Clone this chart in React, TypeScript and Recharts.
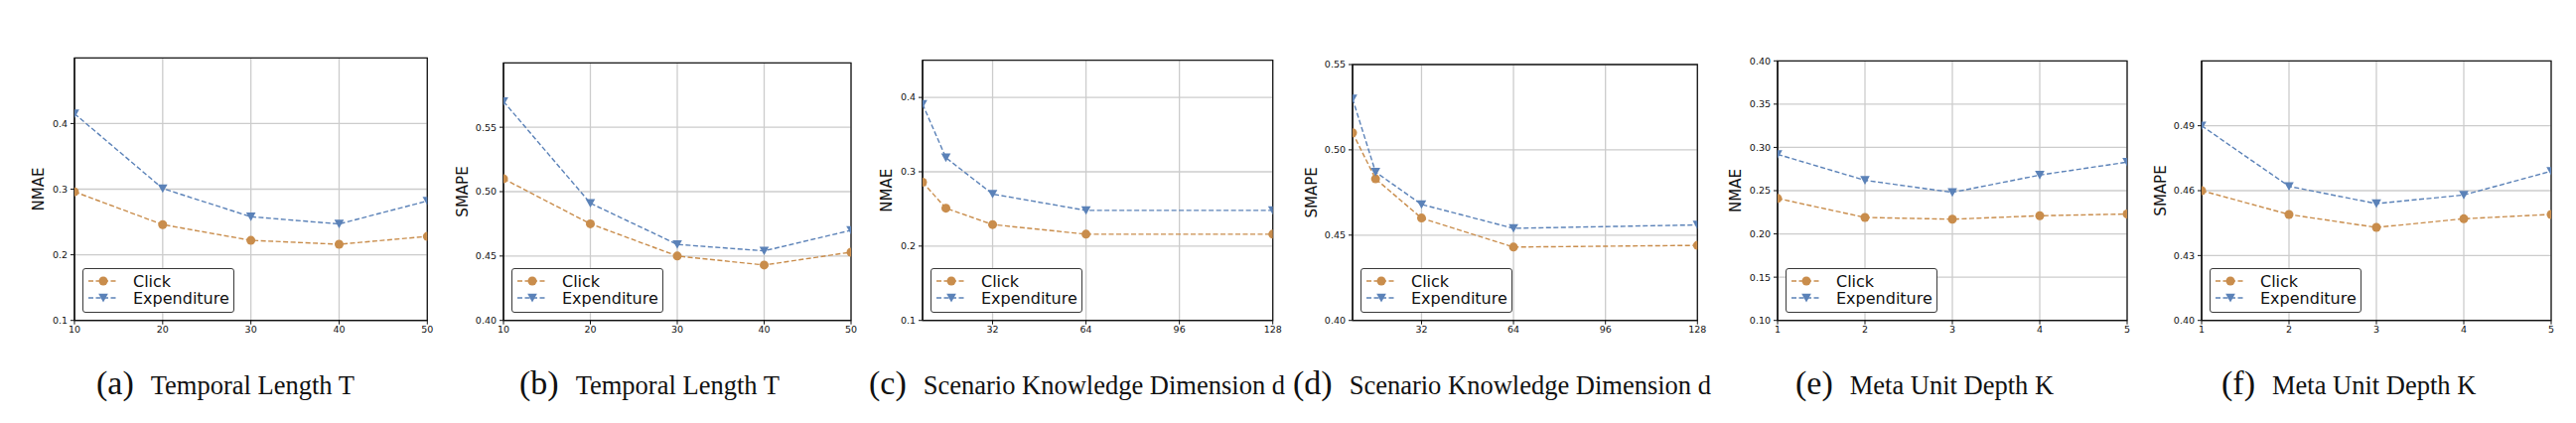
import React from 'react';
import { LineChart, Line, XAxis, YAxis, CartesianGrid, ReferenceArea } from 'recharts';

const ORANGE = '#c98d4c';
const BLUE = '#5b82b8';

// x values
const temporalLength = [10, 20, 30, 40, 50];
const knowledgeDim = [8, 16, 32, 64, 128];
const unitDepth = [1, 2, 3, 4, 5];

// (a) NMAE vs T
const nmaeTClick = [0.296, 0.246, 0.222, 0.216, 0.228];
const nmaeTExp = [0.415, 0.301, 0.258, 0.247, 0.282];
// (b) SMAPE vs T
const smapeTClick = [0.510, 0.475, 0.450, 0.443, 0.453];
const smapeTExp = [0.570, 0.491, 0.459, 0.454, 0.470];
// (c) NMAE vs d
const nmaeDClick = [0.286, 0.251, 0.229, 0.216, 0.216];
const nmaeDExp = [0.391, 0.319, 0.270, 0.248, 0.248];
// (d) SMAPE vs d
const smapeDClick = [0.510, 0.483, 0.460, 0.443, 0.444];
const smapeDExp = [0.530, 0.487, 0.468, 0.454, 0.456];
// (e) NMAE vs K
const nmaeKClick = [0.241, 0.219, 0.217, 0.221, 0.223];
const nmaeKExp = [0.292, 0.262, 0.248, 0.268, 0.283];
// (f) SMAPE vs K
const smapeKClick = [0.460, 0.449, 0.443, 0.447, 0.449];
const smapeKExp = [0.490, 0.462, 0.454, 0.458, 0.469];

// ticks
const xTicksT = [10, 20, 30, 40, 50];
const xTicksD = [32, 64, 96, 128];
const xTicksK = [1, 2, 3, 4, 5];
const yTicksNmae = [0.1, 0.2, 0.3, 0.4];
const yTicksSmape = [0.40, 0.45, 0.50, 0.55];
const yTicksNmaeK = [0.10, 0.15, 0.20, 0.25, 0.30, 0.35, 0.40];
const yTicksSmapeK = [0.40, 0.43, 0.46, 0.49];

const SERIES = ['Click', 'Expenditure'];

const panels = [
  { tag: '(a)', caption: 'Temporal Length T', ylabel: 'NMAE', x: temporalLength, click: nmaeTClick, exp: nmaeTExp,
    xTicks: xTicksT, xDomain: [10, 50], yTicks: yTicksNmae, yDomain: [0.1, 0.5], dec: 1,
    box: { l: 74.7, r: 430, t: 58.3 }, labelGap: 36, capLeft: 97 },
  { tag: '(b)', caption: 'Temporal Length T', ylabel: 'SMAPE', x: temporalLength, click: smapeTClick, exp: smapeTExp,
    xTicks: xTicksT, xDomain: [10, 50], yTicks: yTicksSmape, yDomain: [0.4, 0.6], dec: 2,
    box: { l: 507.3, r: 857.3, t: 63.3 }, labelGap: 41, capLeft: 523 },
  { tag: '(c)', caption: 'Scenario Knowledge Dimension d', ylabel: 'NMAE', x: knowledgeDim, click: nmaeDClick, exp: nmaeDExp,
    xTicks: xTicksD, xDomain: [8, 128], yTicks: yTicksNmae, yDomain: [0.1, 0.45], dec: 1,
    box: { l: 929, r: 1281.7, t: 60.7 }, labelGap: 36, capLeft: 875 },
  { tag: '(d)', caption: 'Scenario Knowledge Dimension d', ylabel: 'SMAPE', x: knowledgeDim, click: smapeDClick, exp: smapeDExp,
    xTicks: xTicksD, xDomain: [8, 128], yTicks: yTicksSmape, yDomain: [0.4, 0.55], dec: 2,
    box: { l: 1362, r: 1709.3, t: 65 }, labelGap: 41, capLeft: 1302 },
  { tag: '(e)', caption: 'Meta Unit Depth K', ylabel: 'NMAE', x: unitDepth, click: nmaeKClick, exp: nmaeKExp,
    xTicks: xTicksK, xDomain: [1, 5], yTicks: yTicksNmaeK, yDomain: [0.1, 0.4], dec: 2,
    box: { l: 1790, r: 2142, t: 61.3 }, labelGap: 42, capLeft: 1808 },
  { tag: '(f)', caption: 'Meta Unit Depth K', ylabel: 'SMAPE', x: unitDepth, click: smapeKClick, exp: smapeKExp,
    xTicks: xTicksK, xDomain: [1, 5], yTicks: yTicksSmapeK, yDomain: [0.4, 0.52], dec: 2,
    box: { l: 2217.3, r: 2569.3, t: 61.3 }, labelGap: 41, capLeft: 2237 },
];

const PLOT_BOTTOM = 322.7;
const AXIS_W = 62;
const X_AXIS_H = 30;
const CHART_H = 360;
const tickFont = { fontFamily: 'DejaVu Sans', fontSize: 9.5, fill: '#111' };

const TriangleDown = (props: any) => {
  const { cx, cy, fill, index } = props;
  if (cx == null || cy == null) return <g key={index} />;
  return <path key={index} d={`M${cx - 4.8},${cy - 4.2}L${cx + 4.8},${cy - 4.2}L${cx},${cy + 4.4}Z`} fill={fill} />;
};

const LegendBox = () => (
  <div style={{
    position: 'absolute', left: 8, bottom: 7.7, width: 153, height: 45, boxSizing: 'border-box',
    border: '1.2px solid #3a3a3a', borderRadius: 3, background: '#fff',
  }}>
    <svg width={153} height={45} style={{ position: 'absolute', left: -1.2, top: -1.2 }}>
      {SERIES.map((name, i) => {
        const y = 13 + i * 17;
        const color = i === 0 ? ORANGE : BLUE;
        return (
          <g key={name}>
            <line x1={6} x2={36} y1={y} y2={y} stroke={color} strokeWidth={1.4} strokeDasharray="5 2.5" />
            {i === 0
              ? <circle cx={21} cy={y} r={4.5} fill={color} />
              : <TriangleDown cx={21} cy={y} fill={color} index={0} />}
            <text x={51} y={y} dominantBaseline="central" fontFamily="DejaVu Sans" fontSize={16} fill="#111">{name}</text>
          </g>
        );
      })}
    </svg>
  </div>
);

const Panel = ({ p }: { p: any }) => {
  const data = p.x.map((x: number, i: number) => ({ x, click: p.click[i], exp: p.exp[i] }));
  const plotW = p.box.r - p.box.l;
  const width = plotW + AXIS_W + 16;
  const fmt = (v: number) => v.toFixed(p.dec);
  return (
    <div style={{ position: 'absolute', left: p.box.l - AXIS_W, top: 0, width, height: CHART_H }}>
      <LineChart width={width} height={CHART_H} data={data}
        margin={{ top: p.box.t, right: 16, left: 0, bottom: CHART_H - PLOT_BOTTOM - X_AXIS_H }}>
        <CartesianGrid stroke="#cccccc" strokeWidth={1.3} />
        <XAxis dataKey="x" type="number" domain={p.xDomain} ticks={p.xTicks} height={X_AXIS_H}
          tick={tickFont} tickSize={4} tickMargin={2} stroke="#111" axisLine={{ stroke: '#111', strokeWidth: 1.3 }}
          tickLine={{ stroke: '#111' }} allowDataOverflow interval={0} />
        <YAxis type="number" domain={p.yDomain} ticks={p.yTicks} width={AXIS_W} tickFormatter={fmt}
          tick={tickFont} tickSize={4} tickMargin={3} axisLine={{ stroke: '#111', strokeWidth: 1.3 }}
          tickLine={{ stroke: '#111' }} allowDataOverflow interval={0}
          label={(lp: any) => {
            const vb = lp.viewBox || {};
            const cx = vb.x + vb.width - p.labelGap;
            const cy = vb.y + vb.height / 2;
            return (
              <text x={cx} y={cy} transform={`rotate(-90 ${cx} ${cy})`} textAnchor="middle"
                dominantBaseline="central" fontFamily="DejaVu Sans" fontSize={15} fill="#111">{p.ylabel}</text>
            );
          }} />
        <ReferenceArea x1={p.xDomain[0]} x2={p.xDomain[1]} y1={p.yDomain[0]} y2={p.yDomain[1]}
          fill="none" fillOpacity={0} stroke="#1a1a1a" strokeWidth={1.3} />
        <Line dataKey="click" stroke={ORANGE} strokeWidth={1.4} strokeDasharray="5 2.5"
          dot={{ r: 4.5, fill: ORANGE, stroke: 'none' }} activeDot={false} isAnimationActive={false} />
        <Line dataKey="exp" stroke={BLUE} strokeWidth={1.4} strokeDasharray="5 2.5"
          dot={(dp: any) => <TriangleDown {...dp} fill={BLUE} />} activeDot={false} isAnimationActive={false} />
      </LineChart>
      <div style={{ position: 'absolute', left: AXIS_W, top: p.box.t, width: plotW, height: PLOT_BOTTOM - p.box.t }}>
        <LegendBox />
      </div>
    </div>
  );
};

export default function App() {
  return (
    <div style={{ position: 'absolute', left: 0, top: 0, width: 2594, height: 426, background: '#fff', overflow: 'hidden' }}>
      {panels.map((p) => <Panel key={p.tag} p={p} />)}
      {panels.map((p) => (
        <div key={'cap' + p.tag} style={{
          position: 'absolute', left: p.capLeft, top: 369, display: 'flex', alignItems: 'baseline',
          fontFamily: 'Liberation Serif', color: '#111', whiteSpace: 'nowrap', lineHeight: 1,
        }}>
          <span style={{ fontSize: 34 }}>{p.tag}</span>
          <span style={{ fontSize: 26.5, marginLeft: 17 }}>{p.caption}</span>
        </div>
      ))}
    </div>
  );
}
